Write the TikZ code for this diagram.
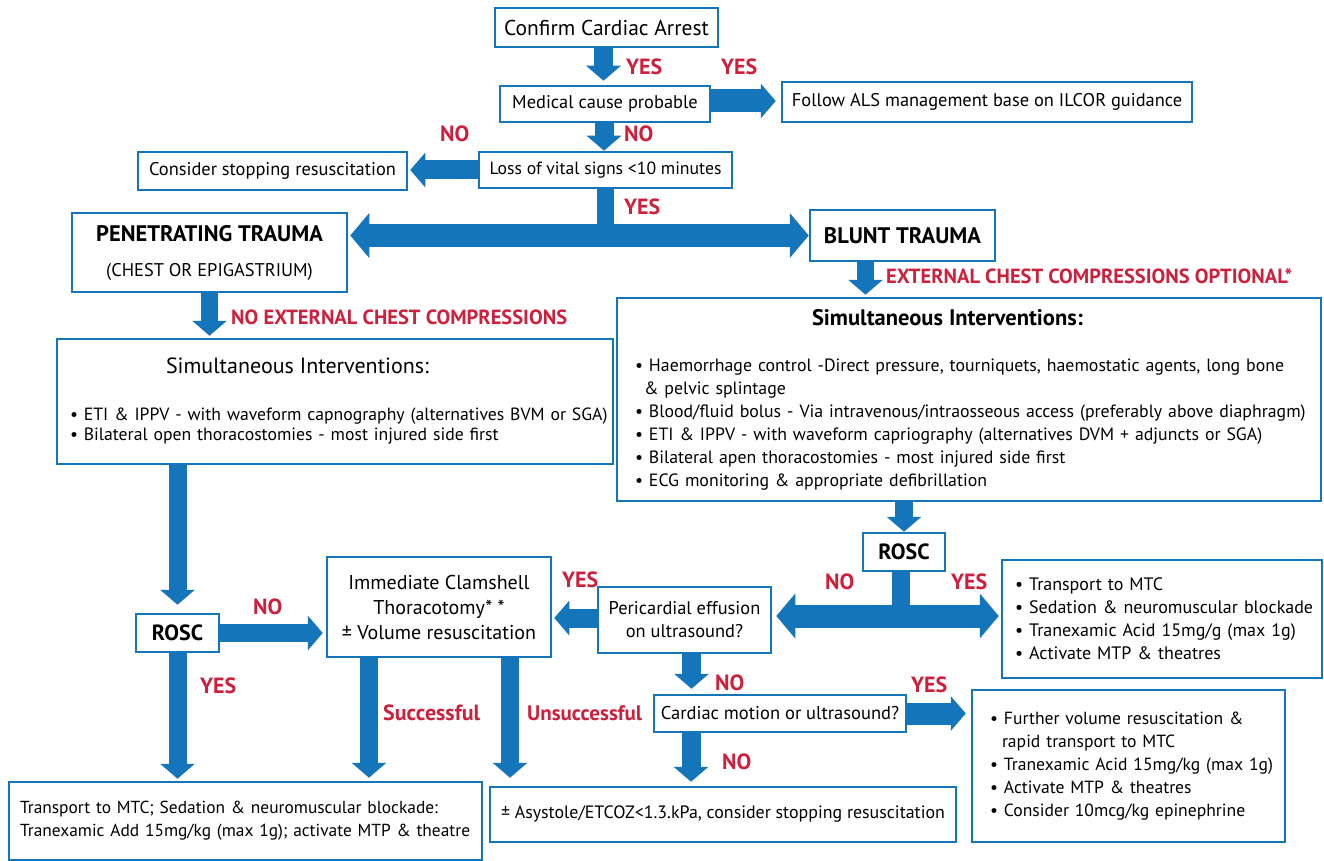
\documentclass[tikz,border=0pt]{standalone}
\usepackage{tikz}
\usepackage{fontspec}
\setmainfont{PT Sans}
\usetikzlibrary{arrows.meta}

\definecolor{ablue}{RGB}{21,117,187}
\definecolor{ared}{RGB}{204,32,60}

\begin{document}
\begin{tikzpicture}[x=1pt,y=-1pt]
    \tikzstyle{box} = [draw=ablue, line width=2.5pt, inner sep=0pt, align=center, font=\fontsize{18.4}{21}\selectfont]
    \tikzstyle{ann} = [text=ared, inner sep=0pt, anchor=west, font=\fontsize{22}{22}\selectfont\bfseries]
    \tikzstyle{flow} = [draw=ablue, line width=19pt, -{Triangle[width=34pt,length=15pt]}]
    \tikzstyle{twoway} = [draw=ablue, line width=23pt, {Triangle[width=44pt,length=19pt]}-{Triangle[width=44pt,length=19pt]}]

    \useasboundingbox (0,0) rectangle (1324,861);

    % boxes, top to bottom
    \node[box, minimum width=223pt, minimum height=39pt, font=\fontsize{21.5}{22}\selectfont] (1) at (606.5,27.5) {Confirm Cardiac Arrest};
    \node[box, minimum width=210pt, minimum height=36pt] (2) at (605,104) {Medical cause probable};
    \node[box, minimum width=410pt, minimum height=40pt] (3) at (987,102) {Follow ALS management base on ILCOR guidance};
    \node[box, minimum width=253pt, minimum height=36pt, font=\fontsize{17.7}{21}\selectfont] (4) at (605.5,170) {Loss of vital signs <10 minutes};
    \node[box, minimum width=269pt, minimum height=38pt] (5) at (272.5,171) {Consider stopping resuscitation};
    \node[box, minimum width=275pt, minimum height=79pt] (6) at (209.5,252.5)
        {{\fontsize{22.5}{23}\selectfont\bfseries PENETRATING TRAUMA}\\[14pt](CHEST OR EPIGASTRIUM)};
    \node[box, minimum width=185pt, minimum height=51pt, font=\fontsize{22.5}{23}\selectfont\bfseries] (7) at (902.5,235.5) {BLUNT TRAUMA};

    \node[box, align=left, text width=530pt, inner xsep=13pt, minimum height=125pt, font=\fontsize{17.7}{20}\selectfont] (8) at (335,401.5)
        {\hspace*{96pt}{\fontsize{22}{22}\selectfont Simultaneous Interventions:}\\[27pt]
         \mbox{\textbullet\ ETI \& IPPV - with waveform capnography (alternatives BVM or SGA)}\\
         \mbox{\textbullet\ Bilateral open thoracostomies - most injured side first}};
    \node[box, align=left, text width=668pt, inner xsep=18pt, minimum height=203pt, font=\fontsize{17.8}{23}\selectfont] (9) at (969,399.5)
        {\hspace*{177pt}{\fontsize{22.5}{22}\selectfont\bfseries Simultaneous Interventions:}\\[23pt]
         \mbox{\textbullet\ Haemorrhage control -Direct pressure, tourniquets, haemostatic agents, long bone}\\
         \hspace*{9pt}\& pelvic splintage\\
         \mbox{\textbullet\ Blood/fluid bolus - Via intravenous/intraosseous access (preferably above diaphragm)}\\
         \mbox{\textbullet\ ETI \& IPPV - with waveform capriography (alternatives DVM + adjuncts or SGA)}\\
         \mbox{\textbullet\ Bilateral apen thoracostomies - most injured side first}\\
         \mbox{\textbullet\ ECG monitoring \& appropriate defibrillation}};

    \node[box, minimum width=83pt, minimum height=38pt, font=\fontsize{22}{22}\selectfont\bfseries] (10) at (177.5,633) {ROSC};
    \node[box, minimum width=224pt, minimum height=100pt, font=\fontsize{20}{25}\selectfont] (11) at (439,607)
        {Immediate Clamshell\\Thoracotomy* *\\± Volume resuscitation};
    \node[box, align=left, text width=451pt, inner xsep=11pt, minimum height=78pt, font=\fontsize{17.4}{23}\selectfont] (12) at (245.5,821)
        {\mbox{Transport to MTC; Sedation \& neuromuscular blockade:}\\
         \mbox{Tranexamic Add 15mg/kg (max 1g); activate MTP \& theatre}};

    \node[box, minimum width=82pt, minimum height=38pt, font=\fontsize{22}{22}\selectfont\bfseries] (13) at (904,552) {ROSC};
    \node[box, minimum width=173pt, minimum height=66pt, font=\fontsize{18.4}{23}\selectfont] (14) at (684.5,620)
        {Pericardial effusion\\on ultrasound?};
    \node[box, align=left, text width=294pt, inner xsep=13pt, minimum height=118pt, font=\fontsize{18}{23}\selectfont] (15) at (1162,619)
        {\mbox{\textbullet\ Transport to MTC}\\
         \mbox{\textbullet\ Sedation \& neuromuscular blockade}\\
         \mbox{\textbullet\ Tranexamic Acid 15mg/g (max 1g)}\\
         \mbox{\textbullet\ Activate MTP \& theatres}};
    \node[box, minimum width=252pt, minimum height=37pt, font=\fontsize{18.5}{21}\selectfont] (16) at (780,713.5) {Cardiac motion or ultrasound?};
    \node[box, align=left, text width=277pt, inner xsep=18pt, minimum height=152pt, font=\fontsize{17.6}{23}\selectfont] (17) at (1128.5,766)
        {\mbox{\textbullet\hspace{6pt}Further volume resuscitation \&}\\
         \hspace*{12pt}rapid transport to MTC\\
         \mbox{\textbullet\hspace{6pt}Tranexamic Acid 15mg/kg (max 1g)}\\
         \mbox{\textbullet\hspace{6pt}Activate MTP \& theatres}\\
         \mbox{\textbullet\hspace{6pt}Consider 10mcg/kg epinephrine}};
    \node[box, minimum width=466pt, minimum height=55pt, font=\fontsize{17.9}{21}\selectfont] (18) at (723,814.5)
        {± Asystole/ETCOZ<1.3.kPa, consider stopping resuscitation};

    % red answers beside the arrows
    \node[ann] (19) at (626,67) {YES};
    \node[ann] (20) at (721,67) {YES};
    \node[ann] (21) at (440,134) {NO};
    \node[ann] (22) at (624,134) {NO};
    \node[ann] (23) at (624,207) {YES};
    \node[ann, font=\fontsize{20.5}{21}\selectfont\bfseries] (24) at (886,276) {EXTERNAL CHEST COMPRESSIONS OPTIONAL*};
    \node[ann, font=\fontsize{20.5}{21}\selectfont\bfseries] (25) at (231,317) {NO EXTERNAL CHEST COMPRESSIONS};
    \node[ann] (26) at (253,607) {NO};
    \node[ann] (27) at (200,686) {YES};
    \node[ann] (28) at (562,580) {YES};
    \node[ann] (29) at (825,582) {NO};
    \node[ann] (30) at (951,582) {YES};
    \node[ann] (31) at (715,683) {NO};
    \node[ann] (32) at (911,685) {YES};
    \node[ann] (33) at (722,762) {NO};
    \node[ann] (34) at (383,713) {Successful};
    \node[ann, font=\fontsize{21}{22}\selectfont\bfseries] (35) at (527,713) {Unsuccessful};

    % arrows
    \draw[flow, shorten >=4pt] ([xshift=-3pt]1.south) -- ([xshift=-3pt]1.south |- 2.north);
    \draw[flow, line width=23pt, shorten >=5pt] ([yshift=3pt]2.east) -- ([yshift=3pt]2.east -| 3.west);
    \draw[flow] ([xshift=-1pt]2.south) -- ([xshift=-1pt]2.south |- 4.north);
    \draw[flow, shorten >=2pt] (4.west) -- (4.west -| 5.east);

    \draw[draw=ablue, line width=17pt] (4.south) -- (4.south |- 7.west);
    \draw[twoway, shorten <=2pt] (6.east |- 7.west) -- (7.west);

    \draw[flow, line width=17pt, shorten >=2pt] (6.south) -- (6.south |- 8.north);
    \draw[flow, line width=17pt, shorten >=2pt] ([xshift=-37pt]7.south) -- ([xshift=-37pt]7.south |- 9.north);

    \draw[flow, line width=18pt, shorten >=8pt] (10.north |- 8.south) -- (10.north);
    \draw[flow, line width=18pt, shorten >=3pt] (10.east) -- (10.east -| 11.west);
    \draw[flow, line width=18pt, shorten >=2pt] (10.south) -- (10.south |- 12.north);
    \draw[flow, line width=18pt, shorten >=3pt] ([xshift=-70pt]11.south) -- ([xshift=-70pt]11.south |- 12.north);
    \draw[flow, line width=18pt, shorten >=8pt] ([xshift=71pt]11.south) -- ([xshift=71pt]11.south |- 18.north);

    \draw[flow, line width=18pt] (13.north |- 9.south) -- (13.north);
    \draw[draw=ablue, line width=18pt] ([xshift=-3pt]13.south) -- ([xshift=-3pt]13.south |- 15.west);
    \draw[twoway, shorten <=4pt, shorten >=2pt] ([yshift=4pt]14.east) -- ([yshift=4pt]14.east -| 15.west);
    \draw[flow, shorten >=2pt] ([yshift=2pt]14.west) -- ([yshift=2pt]14.west -| 11.east);
    \draw[flow, shorten >=5pt] ([xshift=7pt]14.south) -- ([xshift=7pt]14.south |- 16.north);
    \draw[flow, line width=22pt, shorten >=5pt] (16.east) -- (16.east -| 17.west);
    \draw[flow, shorten >=4pt] ([xshift=-89pt]16.south) -- ([xshift=-89pt]16.south |- 18.north);

\end{tikzpicture}
\end{document}
